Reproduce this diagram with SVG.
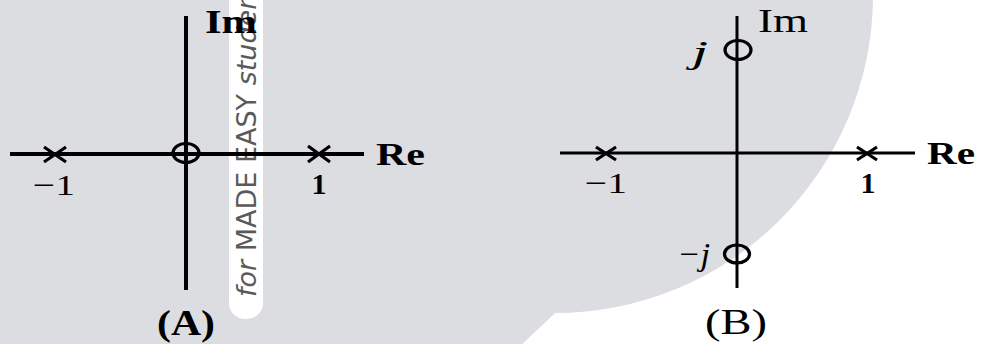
<svg xmlns="http://www.w3.org/2000/svg" width="992" height="344" viewBox="0 0 992 344">
<style>
.ax{stroke:#000;fill:none;stroke-linecap:butt}
.axA{stroke-width:4}
.axB{stroke-width:3}
.pole{stroke:#000;stroke-width:3.2;fill:none}
.zero{stroke:#000;stroke-width:3.2;fill:none}
.lbl{font-family:"Liberation Serif","Times New Roman",serif;fill:#000}
.b{font-weight:bold}
.wm{font-family:"DejaVu Sans","Noto Sans",sans-serif;font-size:27px;fill:#5a5a5a}
</style>
<rect x="0" y="0" width="992" height="344" fill="#ffffff"/>
<g id="background">
<path d="M873,0 A318,318 0 0 1 555,313 L522,344 L0,344 Z" fill="#dcdde0"/>
<path d="M0,0 L873,0 L555,313 L522,344 L0,344 Z" fill="#dcdde0"/>
</g>
<g id="watermark">
<path d="M229,-10 L263,-10 L263,303 A16,16 0 0 1 247,319 L245,319 A16,16 0 0 1 229,303 Z" fill="#ffffff"/>
<text class="wm" transform="translate(256,297) rotate(-90)"><tspan font-style="italic">for</tspan> MADE EASY <tspan font-style="italic">studen</tspan></text>
</g>
<g id="connectors">
<line class="ax axA" x1="10" y1="154" x2="364" y2="154"/>
<line class="ax axA" x1="186" y1="16" x2="186" y2="290"/>
<line class="ax axB" x1="560" y1="153" x2="915" y2="153"/>
<line class="ax axB" x1="737" y1="16" x2="737" y2="288"/>
</g>
<g id="plotA">
<g id="A-pole-minus1"><path class="pole" d="M44,147 L66,162 M44,162 L66,147"/></g>
<g id="A-pole-1"><path class="pole" d="M308,146 L330,162 M308,162 L330,146"/></g>
<g id="A-zero-0"><ellipse class="zero" cx="186" cy="153" rx="13" ry="9.5"/></g>
<text class="lbl b" x="205" y="33" font-size="34" textLength="52" lengthAdjust="spacingAndGlyphs">Im</text>
<text class="lbl b" x="376" y="165" font-size="31" textLength="49" lengthAdjust="spacingAndGlyphs">Re</text>
<text class="lbl" x="33" y="195" font-size="30" textLength="42" lengthAdjust="spacingAndGlyphs">−1</text>
<text class="lbl b" x="319" y="194" font-size="30" text-anchor="middle">1</text>
<text class="lbl b" x="157" y="335" font-size="36" textLength="58" lengthAdjust="spacingAndGlyphs">(A)</text>
</g>
<g id="plotB">
<g id="B-pole-minus1"><path class="pole" d="M596,147 L616,160 M596,160 L616,147"/></g>
<g id="B-pole-1"><path class="pole" d="M857,147 L877,160 M857,160 L877,147"/></g>
<g id="B-zero-j"><ellipse class="zero" cx="738" cy="50" rx="13" ry="9.5"/></g>
<g id="B-zero-minusj"><ellipse class="zero" cx="737" cy="254" rx="12.5" ry="9"/></g>
<text class="lbl" x="758" y="32" font-size="34" textLength="50" lengthAdjust="spacingAndGlyphs">Im</text>
<text class="lbl b" x="927" y="164" font-size="31" textLength="48" lengthAdjust="spacingAndGlyphs">Re</text>
<text class="lbl" x="585" y="193" font-size="30" textLength="42" lengthAdjust="spacingAndGlyphs">−1</text>
<text class="lbl b" x="868" y="193" font-size="30" text-anchor="middle">1</text>
<text class="lbl" x="692" y="63" font-size="32" font-style="italic" textLength="16" lengthAdjust="spacingAndGlyphs">j</text>
<text class="lbl" x="677" y="265" font-size="32" font-style="italic" textLength="33" lengthAdjust="spacingAndGlyphs">−j</text>
<text class="lbl" x="705" y="334" font-size="36" textLength="62" lengthAdjust="spacingAndGlyphs">(B)</text>
</g>
</svg>
